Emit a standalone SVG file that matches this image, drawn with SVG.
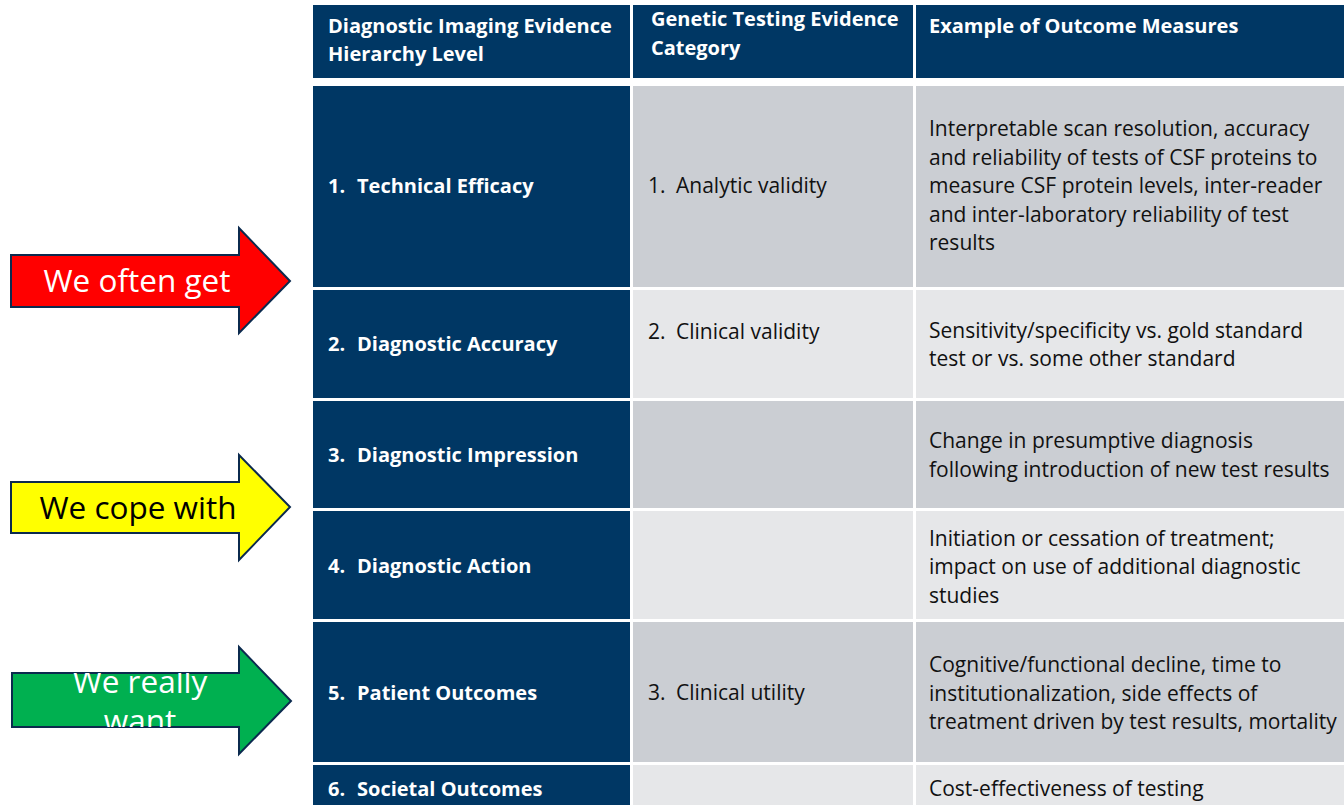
<svg xmlns="http://www.w3.org/2000/svg" width="1344" height="805" viewBox="0 0 1344 805">
<style>
  text { font-family: "Open Sans", "Liberation Sans", sans-serif; }
  .navy { fill: #003764; }
  .dk { fill: #CBCED3; }
  .lt { fill: #E6E7E9; }
  .hd { fill: #ffffff; font-weight: bold; font-size: 20px; }
  .body { fill: #111111; font-size: 21px; }
  .arrow { stroke: #0B2A4E; stroke-width: 2; }
  .at { font-size: 31.5px; }
</style>
<defs>
  <clipPath id="clipGreen"><polygon points="12,673 239,673 239,647 291,701 239,754 239,727 12,727"/></clipPath>
</defs>
<rect x="0" y="0" width="1344" height="805" fill="#ffffff"/>

<g id="header">
  <rect class="navy" x="313" y="5" width="317" height="73"/>
  <rect class="navy" x="633" y="5" width="280" height="73"/>
  <rect class="navy" x="916" y="5" width="428" height="73"/>
  <text class="hd" x="328" y="33">Diagnostic Imaging Evidence</text>
  <text class="hd" x="328" y="61">Hierarchy Level</text>
  <text class="hd" x="651" y="26">Genetic Testing Evidence</text>
  <text class="hd" x="651" y="55">Category</text>
  <text class="hd" x="929" y="33">Example of Outcome Measures</text>
</g>

<g id="row1">
  <rect class="navy" x="313" y="86" width="317" height="201"/>
  <rect class="dk" x="633" y="86" width="280" height="201"/>
  <rect class="dk" x="916" y="86" width="428" height="201"/>
  <text class="hd" x="328" y="193">1.</text><text class="hd" x="357" y="193">Technical Efficacy</text>
  <text class="body" x="648" y="193">1.</text><text class="body" x="676" y="193">Analytic validity</text>
  <text class="body" x="929" y="136">Interpretable scan resolution, accuracy</text>
  <text class="body" x="929" y="164.5">and reliability of tests of CSF proteins to</text>
  <text class="body" x="929" y="193">measure CSF protein levels, inter-reader</text>
  <text class="body" x="929" y="221.5">and inter-laboratory reliability of test</text>
  <text class="body" x="929" y="250">results</text>
</g>

<g id="row2">
  <rect class="navy" x="313" y="290" width="317" height="108"/>
  <rect class="lt" x="633" y="290" width="280" height="108"/>
  <rect class="lt" x="916" y="290" width="428" height="108"/>
  <text class="hd" x="328" y="351">2.</text><text class="hd" x="357" y="351">Diagnostic Accuracy</text>
  <text class="body" x="648" y="339">2.</text><text class="body" x="676" y="339">Clinical validity</text>
  <text class="body" x="929" y="338">Sensitivity/specificity vs. gold standard</text>
  <text class="body" x="929" y="366">test or vs. some other standard</text>
</g>

<g id="row3">
  <rect class="navy" x="313" y="401" width="317" height="107"/>
  <rect class="dk" x="633" y="401" width="280" height="107"/>
  <rect class="dk" x="916" y="401" width="428" height="107"/>
  <text class="hd" x="328" y="462">3.</text><text class="hd" x="357" y="462">Diagnostic Impression</text>
  <text class="body" x="929" y="448">Change in presumptive diagnosis</text>
  <text class="body" x="929" y="476.5">following introduction of new test results</text>
</g>

<g id="row4">
  <rect class="navy" x="313" y="511" width="317" height="108"/>
  <rect class="lt" x="633" y="511" width="280" height="108"/>
  <rect class="lt" x="916" y="511" width="428" height="108"/>
  <text class="hd" x="328" y="573">4.</text><text class="hd" x="357" y="573">Diagnostic Action</text>
  <text class="body" x="929" y="545.5">Initiation or cessation of treatment;</text>
  <text class="body" x="929" y="574">impact on use of additional diagnostic</text>
  <text class="body" x="929" y="602.5">studies</text>
</g>

<g id="row5">
  <rect class="navy" x="313" y="622" width="317" height="140"/>
  <rect class="dk" x="633" y="622" width="280" height="140"/>
  <rect class="dk" x="916" y="622" width="428" height="140"/>
  <text class="hd" x="328" y="700">5.</text><text class="hd" x="357" y="700">Patient Outcomes</text>
  <text class="body" x="648" y="700">3.</text><text class="body" x="676" y="700">Clinical utility</text>
  <text class="body" x="929" y="672">Cognitive/functional decline, time to</text>
  <text class="body" x="929" y="700.5">institutionalization, side effects of</text>
  <text class="body" x="929" y="729">treatment driven by test results, mortality</text>
</g>

<g id="row6">
  <rect class="navy" x="313" y="765" width="317" height="40"/>
  <rect class="lt" x="633" y="765" width="280" height="40"/>
  <rect class="lt" x="916" y="765" width="428" height="40"/>
  <text class="hd" x="328" y="796">6.</text><text class="hd" x="357" y="796">Societal Outcomes</text>
  <text class="body" x="929" y="796">Cost-effectiveness of testing</text>
</g>

<g id="arrow-red">
  <polygon class="arrow" fill="#FF0000" points="11,255 239,255 239,228 290,281 239,333 239,307 11,307"/>
  <text class="at" x="137" y="292" text-anchor="middle" fill="#ffffff">We often get</text>
</g>

<g id="arrow-yellow">
  <polygon class="arrow" fill="#FFFF00" points="11,482 239,482 239,455 290,507 239,560 239,533 11,533"/>
  <text class="at" x="138" y="519" text-anchor="middle" fill="#000000">We cope with</text>
</g>

<g id="arrow-green">
  <polygon class="arrow" fill="#00B050" points="12,673 239,673 239,647 291,701 239,754 239,727 12,727"/>
  <g clip-path="url(#clipGreen)">
    <text class="at" x="140" y="693" text-anchor="middle" fill="#ffffff">We really</text>
    <text class="at" x="140" y="732" text-anchor="middle" fill="#ffffff">want</text>
  </g>
</g>

<g id="connectors"></g>
</svg>
